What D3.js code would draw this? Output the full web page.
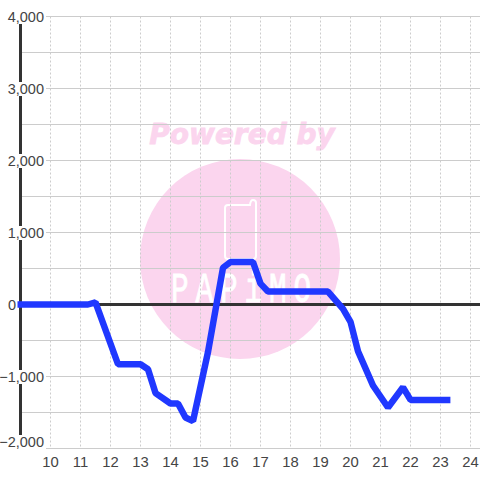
<!DOCTYPE html>
<html><head><meta charset="utf-8">
<script src="https://cdn.jsdelivr.net/npm/d3@7/dist/d3.min.js"></script>
<style>html,body{margin:0;padding:0;background:#fff}svg{display:block}text{font-family:"Liberation Sans",sans-serif}</style>
</head><body><svg id="c" width="480" height="480"></svg>
<script>
const hours=[8.9,11.25,11.5,12.25,13,13.25,13.5,14,14.25,14.5,14.75,15.25,15.75,16,16.75,17,17.25,19.25,19.75,20,20.25,20.75,21.25,21.75,22,23.33];
const values=[0,0,30,-830,-830,-900,-1230,-1375,-1375,-1570,-1620,-660,510,590,590,290,180,180,-60,-240,-650,-1125,-1430,-1150,-1325,-1325];
const xTicks=[10,11,12,13,14,15,16,17,18,19,20,21,22,23,24];
const yMajor=[4000,3000,2000,1000,0,-1000,-2000];
const yMinor=[3500,2500,1500,500,-500,-1500];
const wmTitle="Powered by", wmBrand="PAPiMO";

const svg=d3.select("#c");
const x=d3.scaleLinear().domain([10,24]).range([50.5,470.5]);
const y=d3.scaleLinear().domain([-2000,4000]).range([448.5,16.5]);
const pink="#fbd5ee";

// watermark
const wm=svg.append("g");
wm.append("circle").attr("cx",240).attr("cy",259).attr("r",100).attr("fill",pink);
wm.append("text").text(wmTitle).attr("x",242).attr("y",144).attr("text-anchor","middle")
  .attr("font-size",28).attr("font-weight","bold").attr("font-style","italic").style("font-family","'DejaVu Sans'")
  .attr("fill",pink).attr("stroke",pink).attr("stroke-width",0.8);
wm.append("path").attr("d","M232 205 H250 Q250.5 200 253 200 Q256 200 256 203 V256 Q256 259 253 259 H228 Q225 259 225 256 V208 Q225 205 228 205 Z")
  .attr("fill","none").attr("stroke","#fff").attr("stroke-width",2);
wm.append("text").text(wmBrand).attr("transform","translate(171,302) scale(.7,1)")
  .attr("font-size",42).attr("letter-spacing",9.8).style("font-family","'Liberation Mono'")
  .attr("fill","#fff").attr("stroke","#fff").attr("stroke-width",0.8);

// grid
const grid=svg.append("g").attr("stroke","#ccc").attr("fill","none");
grid.selectAll("line.h").data(yMajor.concat(yMinor)).join("line").attr("class","h")
  .attr("x1",21).attr("x2",480).attr("y1",d=>y(d)).attr("y2",d=>y(d)).attr("stroke-width",1.2);
grid.selectAll("line.v").data(xTicks).join("line").attr("class","v")
  .attr("x1",d=>x(d)).attr("x2",d=>x(d)).attr("y1",y(4000)).attr("y2",y(-2000)).attr("stroke-dasharray","2,2");

// axis lines
svg.append("line").attr("x1",20.5).attr("x2",20.5).attr("y1",y(4000)).attr("y2",y(-2000)).attr("stroke","#333").attr("stroke-width",3);
svg.append("line").attr("x1",21).attr("x2",480).attr("y1",y(0)).attr("y2",y(0)).attr("stroke","#333").attr("stroke-width",3);

// y axis labels
const ya=svg.append("g").attr("transform","translate(44,0)").call(d3.axisLeft(y).offset(0).tickValues(yMajor).tickSize(0).tickPadding(0).tickFormat(d3.format(",")));
ya.select(".domain").remove();
ya.selectAll("text").attr("font-size",14.5).attr("fill","#444").style("font-family","'Liberation Sans'").attr("dy",null).attr("y",5.5);
ya.selectAll("g.tick").each(function(d){
  const g=d3.select(this);
  if(d===0){ g.select("text").attr("x",-28); return; }
  if(d===-2000) g.attr("transform",`translate(0,${y(d)-7})`);
  const b=g.select("text").node().getBBox();
  g.insert("rect","text").attr("x",b.x-1).attr("y",-6.5).attr("width",b.width+3).attr("height",d===-2000?15:14).attr("fill","#fff");
});

// x axis labels
const xa=svg.append("g").attr("transform","translate(0,453)").call(d3.axisBottom(x).offset(0).tickValues(xTicks).tickSize(0).tickPadding(0).tickFormat(d3.format("d")));
xa.select(".domain").remove();
xa.selectAll("text").attr("font-size",14.8).attr("fill","#444").style("font-family","'Liberation Sans'").attr("dy",null).attr("y",13.5);

// series
svg.append("path").datum(hours.map((h,i)=>[h,values[i]]))
  .attr("d",d3.line().x(d=>x(d[0])).y(d=>y(d[1])))
  .attr("fill","none").attr("stroke","#2038ff").attr("stroke-width",6.5).attr("stroke-linejoin","bevel");
</script></body></html>
